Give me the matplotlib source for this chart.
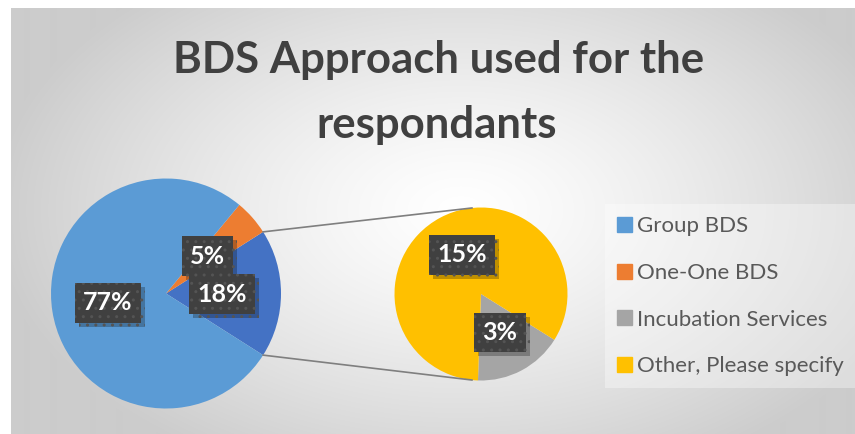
import numpy as np
import matplotlib.pyplot as plt
import matplotlib.patheffects as pe
from matplotlib.patches import Patch

plt.rcParams["font.family"] = ["Lato", "DejaVu Sans"]

W, H = 855, 434

# shares of respondents, percent
main_labels = ["Group BDS", "One-One BDS"]
main_values = [77, 5]
sub_labels = ["Incubation Services", "Other, Please specify"]
sub_values = [3, 15]

main_colours = ["#5B9BD5", "#ED7D31"]
sub_colours = ["#A5A5A5", "#FFC000"]
split_colour = "#4472C4"

fig = plt.figure(figsize=(W / 100, H / 100), dpi=100)

# grey-to-white radial backdrop for the chart area
bg = fig.add_axes([11 / W, 0, (W - 11) / W, (H - 8) / H])
yy, xx = np.mgrid[8:H, 11:W]
d = np.hypot((xx - 460) / 470, (yy - 210) / 290)
shade = 1 - 0.2 * np.clip(d, 0, 1) ** 1.3
bg.imshow(np.dstack([shade] * 3), aspect="auto", interpolation="bilinear")
bg.axis("off")

ax = fig.add_axes([0, 0, 1, 1])

# main pie: split-off share centred on the right, then counter-clockwise
# One-One BDS and Group BDS
split = sum(sub_values)
split_angle = split / (split + sum(main_values)) * 360
main_c = (166, H - 293.5)
main_r = 115
ax.pie([split] + main_values[::-1], colors=[split_colour] + main_colours[::-1],
       startangle=-split_angle / 2, center=main_c, radius=main_r,
       wedgeprops=dict(linewidth=0))

# secondary pie breaking down the split share
sub_c = (481, H - 294)
sub_r = 86.5
ax.pie(sub_values, colors=sub_colours, startangle=-32, counterclock=False,
       center=sub_c, radius=sub_r, wedgeprops=dict(linewidth=0))

ax.set_xlim(0, W)
ax.set_ylim(0, H)

# connector lines between the two pies
for sgn in (1, -1):
    a = np.radians(sgn * split_angle / 2)
    b = np.radians(sgn * 96)
    ax.plot([main_c[0] + main_r * np.cos(a), sub_c[0] + sub_r * np.cos(b)],
            [main_c[1] + main_r * np.sin(a), sub_c[1] + sub_r * np.sin(b)],
            color="#7F7F7F", lw=1.2)


def tag(x, y, s):
    t = ax.text(x, H - y, s, ha="center", va="center", fontsize=18,
                fontweight="bold", color="white",
                bbox=dict(boxstyle="square,pad=0.33", lw=0, fc="#404040",
                          ec="#545454", hatch=".."))
    t.get_bbox_patch().set_path_effects(
        [pe.SimplePatchShadow(offset=(3, -3), shadow_rgbFace="black", alpha=0.25),
         pe.Normal()])


tag(108, 303, f"{main_values[0]}%")
tag(207.5, 256, f"{main_values[1]}%")
tag(222, 294, f"{split}%")
tag(462, 255, f"{sub_values[1]}%")
tag(500, 332.5, f"{sub_values[0]}%")

# title
ax.text(438.5, H - 73.3, "BDS Approach used for the", ha="center",
        va="baseline", fontsize=31.5, fontweight="bold", color="#404040")
ax.text(436.7, H - 138.3, "respondants", ha="center",
        va="baseline", fontsize=31.5, fontweight="bold", color="#404040")

handles = [Patch(color=c) for c in main_colours + sub_colours]
ax.legend(handles, main_labels + sub_labels, loc="upper left",
          bbox_to_anchor=(605 / W, 1 - 204 / H), bbox_transform=fig.transFigure,
          fontsize=16, labelcolor="#595959", handlelength=0.65,
          handleheight=0.65, handletextpad=0.25, labelspacing=1.2,
          borderpad=0.55, borderaxespad=0, fancybox=False,
          edgecolor="none", facecolor="white", framealpha=0.35)

fig.savefig("out.png", dpi=100)
